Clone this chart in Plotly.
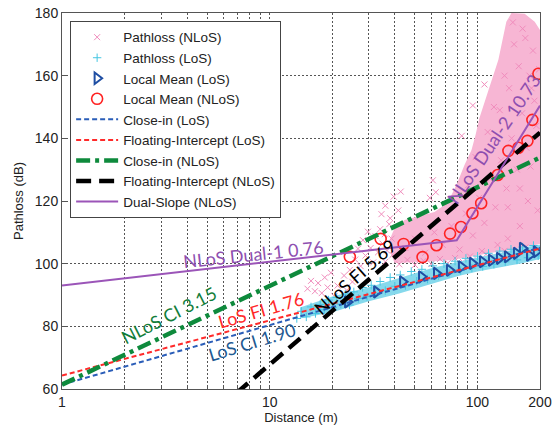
import numpy as np
import plotly.graph_objects as go

# ---------------- measured samples ----------------
# dense envelope of the NLoS samples (distance m, pathloss dB)
nlos_cloud_d = [39.9, 52.6, 73.3, 91.5, 114.2, 142.5, 168.7, 200, 200, 188.6, 168.7, 145.8, 137.7,
                132.0, 126.1, 117.3, 109.2, 102.2, 97.9, 93.6, 86.6, 80.3, 75.0, 69.4, 62.1, 52.6,
                44.6, 39.9, 37.7, 38.6]
nlos_cloud_pl = [100.2, 100.5, 101.1, 102.1, 103.4, 104.3, 105.3, 106.3, 174.6, 177.2, 179.8, 180.0,
                 177.2, 171.5, 165.1, 158.7, 152.3, 146.5, 141.1, 136.3, 131.5, 126.1, 121.9, 118.7,
                 116.5, 115.2, 113.9, 111.4, 107.5, 102.7]

# individual NLoS samples (sparse part, edges and inside the dense region)
nlos_d = [15.2, 15.8, 16.5, 17.1, 17.8, 18.4, 19.0, 19.7, 20.5, 21.2, 22.0, 22.8, 23.5, 24.3, 25.0,
          25.8, 26.6, 27.4, 28.1, 28.9, 29.7, 30.6, 31.5, 32.3, 33.2, 34.0, 34.9, 35.8, 36.7, 37.6,
          38.6, 34.5, 36.0, 38.0, 39.5, 41.6, 42.7, 59.0, 61.0, 63.0, 84.0, 95.0, 108.0,
          36.0, 39.0, 42.0, 46.0, 50.0, 55.0, 60.0, 66.0, 72.0, 78.0, 85.0, 92.0, 100.0, 110.0,
          120.0, 135.0, 150.0, 170.0, 190.0,
          45.0, 50.0, 56.0, 62.0, 68.0, 75.0, 82.0, 88.0, 95.0, 102.0, 108.0, 115.0, 122.0, 130.0,
          138.0, 146.0, 155.0, 164.0, 172.0, 182.0, 192.0, 198.0, 120.0, 135.0, 150.0, 165.0,
          185.0, 175.0, 160.0, 140.0, 125.0, 105.0, 90.0, 98.0, 112.0, 128.0, 142.0, 158.0,
          180.0, 195.0, 148.0, 170.0, 188.0, 140.0, 160.0, 178.0]
nlos_pl = [92.0, 94.5, 91.2, 93.8, 90.6, 95.6, 92.4, 97.1, 89.6, 93.0, 88.4, 96.2, 91.5, 98.0, 94.2,
           101.3, 104.8, 99.2, 107.5, 102.6, 110.2, 105.0, 100.4, 108.8, 103.6, 111.0, 106.4,
           109.4, 104.2, 112.6, 108.0, 115.8, 118.5, 114.5, 121.4, 117.0, 123.0, 121.0, 126.6,
           122.8, 140.8, 150.5, 157.2,
           100.6, 102.8, 99.8, 101.2, 99.6, 100.9, 99.9, 101.5, 100.2, 101.8, 100.6, 102.3, 101.2,
           103.0, 102.4, 104.1, 103.5, 105.2, 104.8,
           105.0, 108.0, 103.5, 110.0, 106.0, 112.0, 104.5, 116.0, 109.0, 121.0, 113.0, 127.0,
           118.0, 133.0, 124.0, 140.0, 130.0, 148.0, 137.0, 156.0, 144.0, 162.0, 150.0, 160.0,
           170.0, 175.0, 168.0, 120.0, 112.0, 108.0, 106.0, 104.0, 125.0, 134.0, 142.0, 149.0,
           156.0, 163.0, 131.0, 117.0, 177.0, 172.0, 152.0, 118.0, 124.0, 160.0]

# LoS sample band (distance m, pathloss dB)
los_band_d = [14, 20, 30, 42, 60, 80, 100, 130, 160, 200, 200, 160, 130, 100, 80, 60, 42, 30, 20, 14]
los_band_pl = [86.0, 89.5, 92.5, 95.5, 98.5, 100.5, 102.0, 103.5, 105.0, 106.0,
               101.5, 100.0, 99.0, 97.5, 96.0, 93.5, 90.5, 88.0, 84.5, 82.5]

los_d = [13.5, 14.2, 15.0, 15.8, 16.6, 17.5, 18.3, 19.2, 20.1, 21.0, 22.0, 23.1, 24.2, 25.4, 26.7,
         28.0, 29.4, 30.8, 32.3, 34.0, 36.0, 38.0, 40.0, 42.5, 45.0, 48.0, 51.0, 54.0, 57.5, 61.0,
         65.0, 69.0, 73.0, 78.0, 83.0, 88.0, 94.0, 100.0, 106.0, 113.0, 120.0, 128.0, 136.0,
         145.0, 155.0, 165.0, 175.0, 186.0, 196.0]
los_pl = [82.5, 84.8, 83.0, 86.2, 84.1, 87.0, 85.3, 88.4, 86.0, 89.2, 87.1, 90.3, 86.8, 91.0, 88.9,
          92.4, 89.5, 93.1, 90.6, 94.3, 91.4, 95.6, 92.8, 96.4, 93.0, 97.5, 94.4, 98.2, 95.1, 99.3,
          96.2, 100.0, 96.9, 100.8, 97.8, 101.7, 98.6, 102.4, 99.1, 103.3, 99.8, 104.0, 100.6,
          104.6, 101.2, 105.3, 101.9, 105.8, 102.5]

# local means
lm_los_d = [23.7, 32.7, 43.6, 53.8, 63.5, 73.3, 83.7, 94.5, 105.7, 116.8, 127.6, 139.4, 154.0,
            164.6, 178.0, 192.0]
lm_los_pl = [87.8, 91.0, 94.2, 95.8, 96.9, 97.9, 99.0, 100.1, 100.6, 101.1, 101.7, 102.2, 103.3,
             104.9, 102.7, 103.8]
lm_nlos_d = [24.3, 34.2, 44.1, 54.4, 63.5, 73.8, 83.3, 94.6, 104.2, 125.2, 140.9, 157.4, 174.0,
             183.8, 196.5]
lm_nlos_pl = [102.2, 107.9, 106.3, 102.1, 105.9, 109.6, 111.7, 116.1, 119.3, 128.3, 136.0, 137.0,
              139.2, 145.9, 160.6]

# ---------------- path loss models ----------------
FSPL_1M = 61.4          # free-space path loss at 1 m (dB)
n_ci_los = 1.90
n_ci_nlos = 3.15
fi_los_alpha, fi_los_beta = 64.3, 1.76
fi_nlos_alpha, fi_nlos_beta = 10.9, 5.69
dual_alpha, dual_n1, dual_n2, dual_break = 93.0, 0.76, 10.73, 79.5

d_line = np.array([1.0, 200.0])
ci_los = FSPL_1M + 10 * n_ci_los * np.log10(d_line)
ci_nlos = FSPL_1M + 10 * n_ci_nlos * np.log10(d_line)
fi_los = fi_los_alpha + 10 * fi_los_beta * np.log10(d_line)
fi_nlos = fi_nlos_alpha + 10 * fi_nlos_beta * np.log10(d_line)
d_dual = np.array([1.0, dual_break, 200.0])
pl_break = dual_alpha + 10 * dual_n1 * np.log10(dual_break)
dual = np.where(d_dual <= dual_break,
                dual_alpha + 10 * dual_n1 * np.log10(d_dual),
                pl_break + 10 * dual_n2 * np.log10(d_dual / dual_break))

PINK = "#f08cbc"
PINK_FILL = "#f7b6d4"
CYAN = "#45c6e2"
CYAN_FILL = "#86d9ec"

fig = go.Figure()

# sample clouds
fig.add_trace(go.Scatter(x=nlos_cloud_d, y=nlos_cloud_pl, mode="lines", fill="toself",
                         fillcolor=PINK_FILL, line=dict(width=0), showlegend=False,
                         hoverinfo="skip"))
fig.add_trace(go.Scatter(x=nlos_d, y=nlos_pl, mode="markers", name="Pathloss (NLoS)",
                         marker=dict(symbol="x-thin", size=6, line=dict(width=1, color=PINK))))
fig.add_trace(go.Scatter(x=los_band_d, y=los_band_pl, mode="lines", fill="toself",
                         fillcolor=CYAN_FILL, line=dict(width=0), showlegend=False,
                         hoverinfo="skip"))
fig.add_trace(go.Scatter(x=los_d, y=los_pl, mode="markers", name="Pathloss (LoS)",
                         marker=dict(symbol="cross-thin", size=6, line=dict(width=1, color=CYAN))))

# local means
fig.add_trace(go.Scatter(x=lm_los_d, y=lm_los_pl, mode="markers", name="Local Mean (LoS)",
                         marker=dict(symbol="triangle-right-open", size=10, color="#1f4ea3",
                                     line=dict(width=2, color="#1f4ea3"))))
fig.add_trace(go.Scatter(x=lm_nlos_d, y=lm_nlos_pl, mode="markers", name="Local Mean (NLoS)",
                         marker=dict(symbol="circle-open", size=11, color="#ff2222",
                                     line=dict(width=1.6, color="#ff2222"))))

# model lines
fig.add_trace(go.Scatter(x=d_line, y=ci_los, mode="lines", name="Close-in (LoS)",
                         line=dict(color="#2a5db8", width=2, dash="5px,3px")))
fig.add_trace(go.Scatter(x=d_line, y=fi_los, mode="lines", name="Floating-Intercept (LoS)",
                         line=dict(color="#ff2a2a", width=2, dash="5px,3px")))
fig.add_trace(go.Scatter(x=d_line, y=ci_nlos, mode="lines", name="Close-in (NLoS)",
                         line=dict(color="#0e8a3c", width=4.5, dash="14px,5px,4px,5px")))
fig.add_trace(go.Scatter(x=d_line, y=fi_nlos, mode="lines", name="Floating-Intercept (NLoS)",
                         line=dict(color="black", width=4.5, dash="15px,8px")))
fig.add_trace(go.Scatter(x=d_dual, y=dual, mode="lines", name="Dual-Slope (NLoS)",
                         line=dict(color="#9b55b8", width=2)))

# model labels
lab_font = "Lato, Noto Sans, sans-serif"
labels = [
    ("NLoS CI 3.15", 3.27, 83.5, -27, "#127d3a"),
    ("LoS FI 1.76", 9.06, 85.1, -16, "#ff2a2a"),
    ("LoS CI 1.90", 8.18, 74.9, -17, "#1f5a92"),
    ("NLoS Dual-1 0.76", 8.37, 103.1, -6, "#8e4fb0"),
    ("NLoS FI 5.69", 25.6, 95.7, -42, "black"),
    ("NLoS Dual-2 10.73", 119.4, 139.8, -56, "#8e4fb0"),
]
for txt, dx, py, ang, col in labels:
    fig.add_annotation(x=np.log10(dx), y=py, text=txt, showarrow=False, textangle=ang,
                       font=dict(family=lab_font, size=18, color=col),
                       xref="x", yref="y")

grid_vals = [1, 2, 3, 4, 5, 6, 7, 8, 9, 10, 20, 30, 40, 50, 60, 70, 80, 90, 100, 200]
grid_text = ["1", "", "", "", "", "", "", "", "", "10", "", "", "", "", "", "", "", "", "100", "200"]

axis_family = "Arial, Liberation Sans, sans-serif"
axis_font = dict(family=axis_family, size=14, color="#222")

fig.update_xaxes(type="log", range=[0, np.log10(200)], tickvals=grid_vals, ticktext=grid_text,
                 showgrid=True, gridcolor="#555", griddash="2px,2px", gridwidth=1,
                 showline=True, linecolor="#555", mirror=True, ticks="inside", ticklen=4,
                 tickcolor="#555", tickfont=axis_font, zeroline=False, automargin=False,
                 title=dict(text="Distance (m)", font=dict(family=axis_family, size=13,
                                                           color="#222"), standoff=4))
fig.update_yaxes(range=[60, 180], dtick=20, showgrid=True, gridcolor="#555", griddash="2px,2px",
                 gridwidth=1, showline=True, linecolor="#555", mirror=True, ticks="inside",
                 ticklen=4, tickcolor="#555", tickfont=axis_font, zeroline=False, automargin=False,
                 title=dict(text="Pathloss (dB)", font=dict(family=axis_family, size=13,
                                                            color="#222"), standoff=8))

fig.update_layout(
    width=553, height=432,
    margin=dict(l=62, r=13, t=13, b=43),
    plot_bgcolor="white", paper_bgcolor="white",
    legend=dict(x=0.017, y=0.979, xanchor="left", yanchor="top", bgcolor="white",
                bordercolor="#444", borderwidth=1,
                font=dict(family=axis_family, size=13.5, color="#222"),
                itemwidth=42, tracegroupgap=0),
)

fig.write_html("out.html")
